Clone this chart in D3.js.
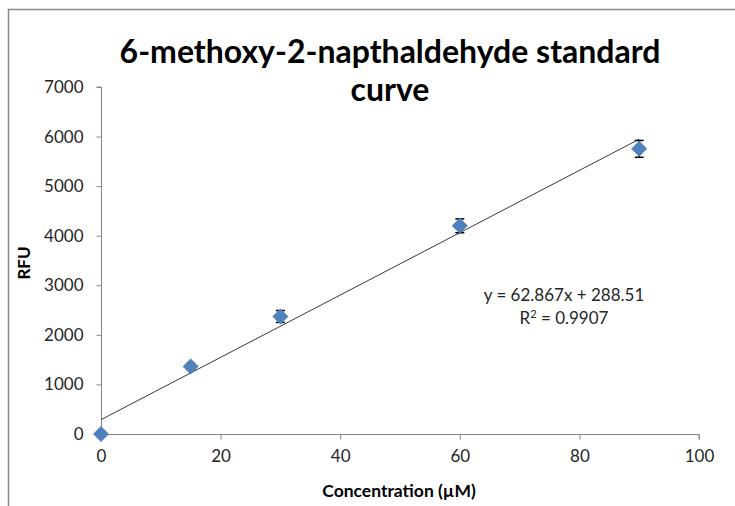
<!DOCTYPE html>
<html>
<head>
<meta charset="utf-8">
<script src="https://cdn.jsdelivr.net/npm/d3@7"></script>
<style>
  html, body { margin: 0; padding: 0; background: #fff; }
  svg { display: block; }
  text { font-family: Lato, "Open Sans", sans-serif; }
</style>
</head>
<body>
<svg id="chart" width="735" height="506"></svg>
<script>
// ---- data ----
const concentrations = [0, 15, 30, 60, 90];
const rfu = [0, 1363, 2371, 4200, 5752];
const rfuError = [20, 60, 120, 140, 170];
const xTicks = [0, 20, 40, 60, 80, 100];
const yTicks = [0, 1000, 2000, 3000, 4000, 5000, 6000, 7000];
const trendSlope = 62.867;
const trendIntercept = 288.51;
const rSquared = 0.9907;
const titleLines = ["6-methoxy-2-napthaldehyde standard", "curve"];
const xTitle = "Concentration (µM)";
const yTitle = "RFU";

// ---- layout ----
const svg = d3.select("#chart");
const plot = { left: 101, right: 699, top: 87, bottom: 434 };
const x = d3.scaleLinear().domain([0, 100]).range([plot.left, plot.right]);
const y = d3.scaleLinear().domain([0, 7000]).range([plot.bottom, plot.top]);
const axisColor = "#868686";
const textColor = "#262626";

// chart border
svg.append("rect")
  .attr("x", 8.5).attr("y", 9.5)
  .attr("width", 800).attr("height", 600)
  .attr("fill", "none").attr("stroke", "#8a8a8a").attr("stroke-width", 1.5);

// title
const title = svg.append("text")
  .attr("text-anchor", "middle")
  .attr("font-weight", "bold")
  .attr("font-size", 32)
  .attr("fill", "#000");
titleLines.forEach((t, i) => {
  title.append("tspan").attr("x", 390).attr("y", 63 + i * 38).text(t);
});

// y axis
const yAxis = d3.axisLeft(y).tickValues(yTicks).tickSize(5).tickPadding(13).tickFormat(d3.format("d"));
const gy = svg.append("g").attr("transform", `translate(${plot.left + 0.5},0)`).call(yAxis);
gy.select(".domain").attr("stroke", axisColor).attr("d", `M-5,${y(7000)}H0V${y(0)}`);
gy.selectAll(".tick line").attr("stroke", axisColor);
gy.selectAll(".tick text").attr("fill", textColor).attr("font-size", 17)
  .attr("font-family", "Lato, sans-serif");

// x axis
const xAxis = d3.axisBottom(x).tickValues(xTicks).tickSize(5).tickPadding(10).tickFormat(d3.format("d"));
const gx = svg.append("g").attr("transform", `translate(0,${plot.bottom + 0.5})`).call(xAxis);
gx.select(".domain").attr("stroke", axisColor).attr("d", `M${x(0)},0H${x(100)}V5`);
gx.selectAll(".tick line").attr("stroke", axisColor);
gx.selectAll(".tick text").attr("fill", textColor).attr("font-size", 17)
  .attr("font-family", "Lato, sans-serif");

// axis titles
svg.append("text")
  .attr("transform", `translate(30,263) rotate(-90)`)
  .attr("text-anchor", "middle")
  .attr("font-weight", "bold").attr("font-size", 17)
  .attr("fill", "#000")
  .text(yTitle);
svg.append("text")
  .attr("x", 399).attr("y", 497)
  .attr("text-anchor", "middle")
  .attr("font-weight", "bold").attr("font-size", 17.5)
  .attr("fill", "#000")
  .text(xTitle);

// trendline
const xMin = d3.min(concentrations), xMax = d3.max(concentrations);
svg.append("line")
  .attr("x1", x(xMin)).attr("y1", y(trendSlope * xMin + trendIntercept))
  .attr("x2", x(xMax)).attr("y2", y(trendSlope * xMax + trendIntercept))
  .attr("stroke", "#3a3a3a").attr("stroke-width", 1);

const pts = concentrations.map((c, i) => ({ c, v: rfu[i], e: rfuError[i] }));

// error bars (behind markers)
const eb = svg.append("g").attr("stroke", "#000").attr("stroke-width", 1.5);
pts.forEach(d => {
  const cx = x(d.c);
  eb.append("line").attr("x1", cx).attr("x2", cx).attr("y1", y(d.v + d.e)).attr("y2", y(d.v - d.e));
  [d.v + d.e, d.v - d.e].forEach(v => {
    eb.append("line").attr("x1", cx - 4.5).attr("x2", cx + 4.5).attr("y1", y(v)).attr("y2", y(v));
  });
});

// markers with dashed dark outline
svg.append("g").selectAll("path").data(pts).join("path")
  .attr("transform", d => `translate(${x(d.c)},${y(d.v)})`)
  .attr("d", "M0,-8L8,0L0,8L-8,0Z")
  .attr("fill", "#4F81BD");

// equation
const eq = svg.append("text").attr("text-anchor", "middle").attr("font-size", 17).attr("fill", textColor);
eq.append("tspan").attr("x", 564).attr("y", 301)
  .text(`y = ${trendSlope}x + ${trendIntercept}`);
const l2 = eq.append("tspan").attr("x", 564).attr("y", 324);
l2.append("tspan").text("R");
l2.append("tspan").attr("font-size", 11).attr("dy", -6).text("2");
l2.append("tspan").attr("dy", 6).text(` = ${rSquared}`);
</script>
</body>
</html>
